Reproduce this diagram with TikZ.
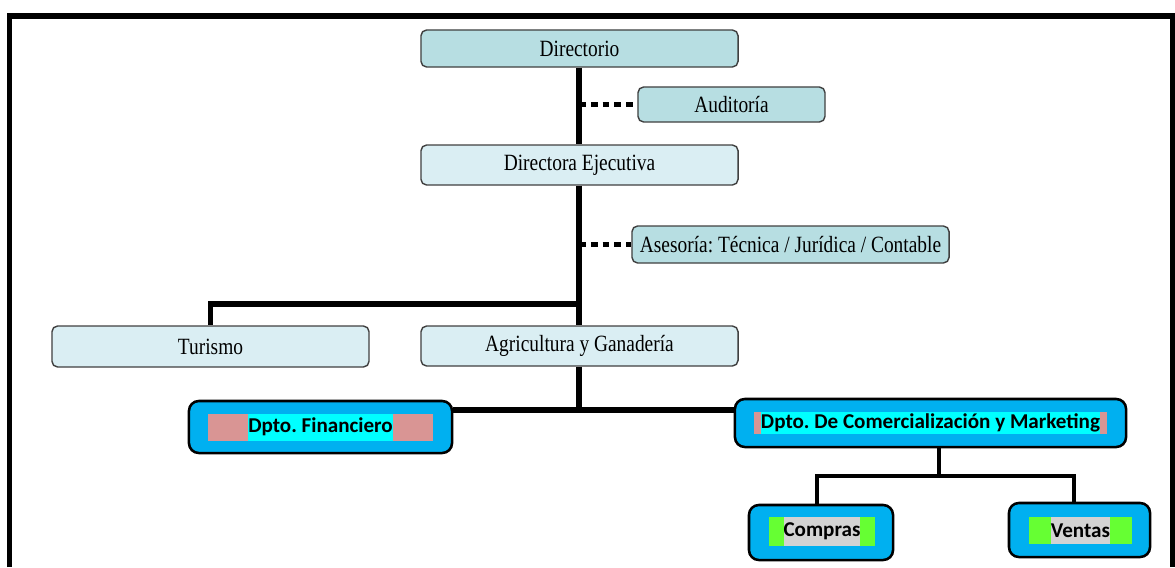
\documentclass[tikz,border=0pt]{standalone}
\usepackage{fontspec}
\setmainfont{Liberation Serif}
\newfontfamily\calibri{Carlito}
\usepackage{graphicx}
\usetikzlibrary{positioning}
\definecolor{tealclaro}{RGB}{183,222,226}
\definecolor{celeste}{RGB}{218,238,243}
\definecolor{borde}{RGB}{64,64,64}
\definecolor{azul}{RGB}{0,176,240}
\definecolor{cian}{RGB}{0,255,255}
\definecolor{rosa}{RGB}{217,149,148}
\definecolor{verde}{RGB}{102,255,51}
\definecolor{gris}{RGB}{211,211,211}
\newcommand{\alto}[1]{\scalebox{1}[1.2]{#1}}
\frenchspacing
\tikzset{
    jefe/.style={draw=borde, fill=tealclaro, rounded corners=4pt, line width=1pt, minimum height=0.925cm, font=\fontsize{13.8}{16}\selectfont, inner sep=0pt},
    area/.style={jefe, fill=celeste},
    dpto/.style={draw=black, fill=azul, rounded corners=7pt, line width=1.8pt, inner sep=0pt},
    banda/.style={inner sep=0pt, minimum height=0.675cm},
    rotulo/.style={inner sep=0pt, font=\calibri\bfseries\fontsize{15}{18}\selectfont},
    linea/.style={-, line width=3.6pt},
    punteado/.style={-, line width=4.2pt, dash pattern=on 4.8pt off 3.6pt},
}
\begin{document}
\begin{tikzpicture}[x=0.025cm, y=-0.025cm]
    \useasboundingbox (0,0) rectangle (1175,567);
    % marco
    \draw[line width=3.6pt] (9.5,567) |- (1173,16) -- (1173,567);

    \node[jefe, minimum width=7.925cm] (dir) at (579.5,48.5) {\alto{Directorio}};
    \node[jefe, minimum width=4.675cm, minimum height=0.875cm] (aud) at (731.5,104.5) {\alto{Auditoría}};
    \node[area, minimum width=7.925cm, minimum height=1cm] (eje) at (579.5,165) {\alto{Directora Ejecutiva}};
    \node[jefe, minimum width=7.925cm] (ase) at (790.5,244.5) {\alto{Asesoría: Técnica / Jurídica / Contable}};
    \node[area, minimum width=7.925cm, minimum height=1.025cm] (tur) at (210.5,346.5) {\alto{Turismo}};
    \node[area, minimum width=7.925cm, minimum height=1cm] (agr) at (579.5,346) {\alto{Agricultura y Ganadería}};

    % departamentos
    \node[dpto, minimum width=6.575cm, minimum height=1.3cm] (fin) at (320.5,427) {};
    \node[banda, fill=rosa, minimum width=5.625cm] (finb) at (fin) {};
    \node[rotulo, fill=cian, minimum height=0.675cm] (fint) at (fin) {Dpto. Financiero};

    \node[dpto, minimum width=9.775cm, minimum height=1.2cm] (com) at (930.5,423) {};
    \node[banda, fill=rosa, minimum width=8.8cm, minimum height=0.55cm] (comb) at (com) {};
    \node[rotulo, fill=cian, minimum height=0.55cm] (comt) at (com) {Dpto. De Comercialización y Marketing};

    \node[dpto, minimum width=3.6cm, minimum height=1.375cm] (cmp) at (821,532.5) {};
    \node[banda, fill=verde, minimum width=2.65cm, minimum height=0.725cm] (cmpb) at (822,531.5) {};
    \node[rotulo, fill=gris, minimum height=0.725cm] (cmpt) at (cmpb) {Compras};

    \node[dpto, minimum width=3.525cm, minimum height=1.35cm] (ven) at (1079.5,530) {};
    \node[banda, fill=verde, minimum width=2.575cm] (venb) at (1080.5,530.5) {};
    \node[rotulo, fill=gris, minimum height=0.675cm] (vent) at (venb) {Ventas};

    \coordinate (rama) at (579,304);
    \coordinate (bus) at (579,410);
    \coordinate (bus2) at (939,476);
    \coordinate (b2l) at (817,476);
    \coordinate (b2r) at (1074,476);

    \draw[linea] (dir.south -| rama) -- (eje.north -| rama);
    \draw[linea] (eje.south -| rama) -- (agr.north -| rama);
    \draw[linea] (rama) -| (tur.north);
    \draw[punteado] (aud.west -| rama) -- (aud.west);
    \draw[punteado] (ase.west -| rama) -- (ase.west);
    \draw[linea] (agr.south -| bus) -- (bus);
    \draw[linea] (fin.east |- bus) -- (com.west |- bus);
    \draw[linea, line width=2.8pt] (com.south -| bus2) -- (bus2);
    \draw[linea, line width=2.8pt] (cmp.north -| b2l) -- (b2l) -- (b2r) -- (ven.north -| b2r);
\end{tikzpicture}
\end{document}
